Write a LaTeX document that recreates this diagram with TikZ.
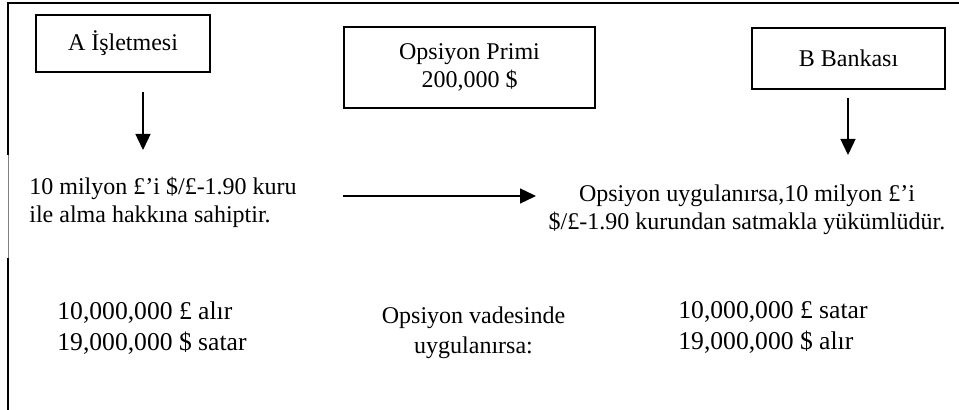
\documentclass[tikz,border=0pt]{standalone}
\usepackage{fontspec}
\setmainfont{Liberation Serif}
\usetikzlibrary{arrows.meta, positioning}

\begin{document}
\begin{tikzpicture}[
  x=0.5pt, y=-0.5pt,
  font=\fontsize{12}{14}\selectfont,
  box/.style={draw, line width=0.6pt, align=center, inner sep=0pt},
  txt/.style={inner sep=0pt, align=left},
  big/.style={txt, font=\fontsize{12.8}{15.5}\selectfont},
  arr/.style={-{Triangle[width=7.5pt, length=8pt]}, line width=0.7pt}
]
  \useasboundingbox (0,0) rectangle (959,410);
  % frame
  \draw[line width=1pt] (8,410) -- (8,258);
  \draw[line width=0.3pt, gray] (8,258) -- (8,155);
  \draw[line width=1pt] (8,155) -- (8,3) -- (962,3);

  % parties and premium
  \node[box, minimum width=87pt, minimum height=28.5pt] (firmA) at (123,43.5) {A İşletmesi};
  \node[box, minimum width=125.5pt, minimum height=40.5pt] (prim) at (469.5,67.5) {Opsiyon Primi\\200,000 \$};
  \node[box, minimum width=96.5pt, minimum height=30.5pt] (bankB) at (848.5,58.5) {B Bankası};

  % rights and obligations
  \node[txt, anchor=north west] (hakA) at (29,177) {10 milyon £’i \$/£-1.90 kuru\\ile alma hakkına sahiptir.};
  \node[txt, align=center, anchor=north] (yukB) at (747,184) {Opsiyon uygulanırsa,10 milyon £’i\\\$/£-1.90 kurundan satmakla yükümlüdür.};

  % at expiry
  \node[big, anchor=north west] (sonA) at (57,301) {10,000,000 £ alır\\19,000,000 \$ satar};
  \node[txt, align=center, font=\fontsize{12}{15}\selectfont, anchor=north] (vade) at (473.5,306) {Opsiyon vadesinde\\uygulanırsa:};
  \node[big, anchor=north west] (sonB) at (678,301) {10,000,000 £ satar\\19,000,000 \$ alır};

  \coordinate (a1) at (143,92);
  \coordinate (a2) at (143,150);
  \coordinate (b1) at (848,98);
  \coordinate (b2) at (848,155);
  \coordinate (h1) at (343,196);
  \coordinate (h2) at (536,196);
  \draw[arr] (a1) -- (a2);
  \draw[arr] (b1) -- (b2);
  \draw[arr] (h1) -- (h2);
\end{tikzpicture}
\end{document}
